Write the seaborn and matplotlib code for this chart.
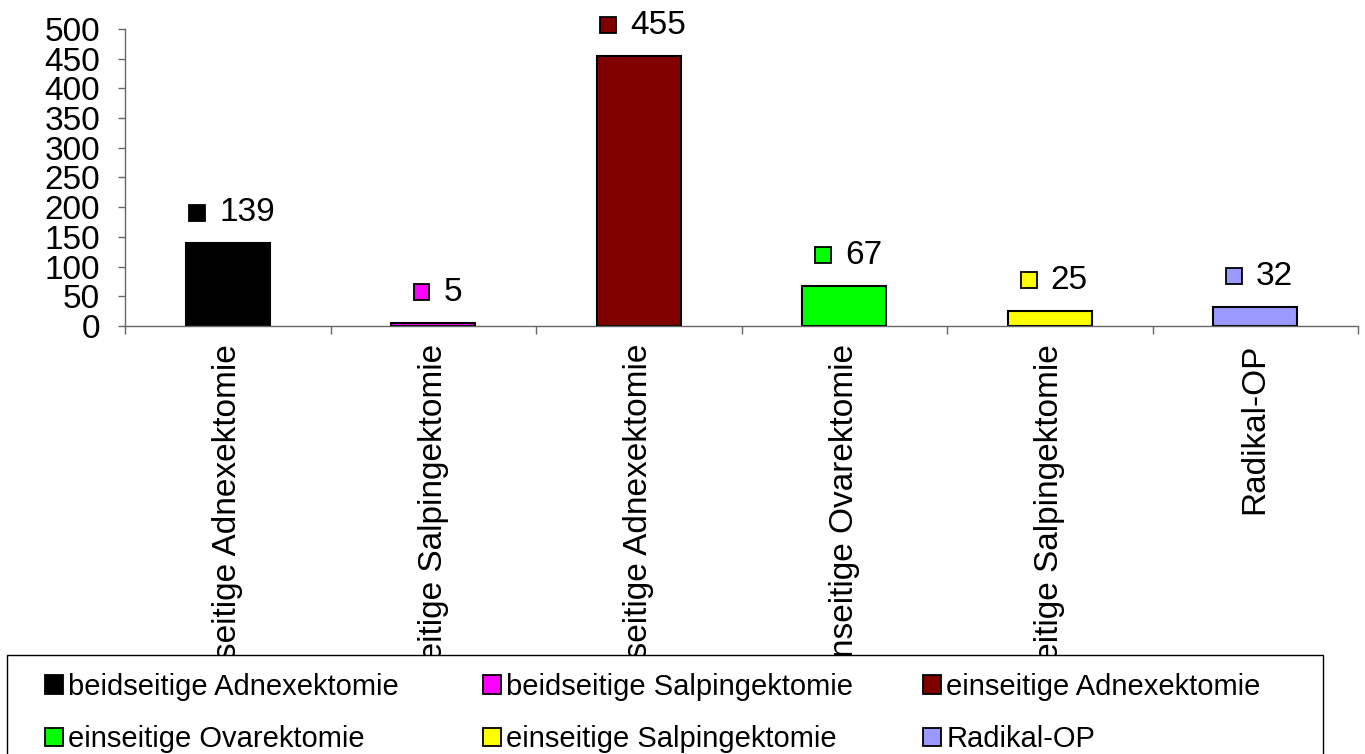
import matplotlib
matplotlib.use("Agg")
import matplotlib.pyplot as plt
import seaborn as sns
import pandas as pd
from matplotlib.patches import Patch, Rectangle
from matplotlib.offsetbox import AnnotationBbox, HPacker, TextArea, DrawingArea

categories = [
    "beidseitige Adnexektomie",
    "beidseitige Salpingektomie",
    "einseitige Adnexektomie",
    "einseitige Ovarektomie",
    "einseitige Salpingektomie",
    "Radikal-OP",
]
counts = [139, 5, 455, 67, 25, 32]
colors = ["#000000", "#FF00FF", "#800000", "#00FF00", "#FFFF00", "#9999FF"]
y_ticks = list(range(0, 501, 50))

sns.set_style("white")
plt.rcParams["font.family"] = ["Liberation Sans", "DejaVu Sans"]
plt.rcParams["text.color"] = "black"
plt.rcParams["xtick.color"] = "black"
plt.rcParams["ytick.color"] = "black"

df = pd.DataFrame({"Eingriff": categories, "Anzahl": counts})
palette = dict(zip(categories, colors))

W, H = 1365, 754
fig = plt.figure(figsize=(W / 100, H / 100), dpi=100)
ax = fig.add_axes([125 / W, 1 - 326 / H, 1233 / W, 297 / H])

sns.barplot(data=df, x="Eingriff", y="Anzahl", hue="Eingriff", palette=palette,
            order=categories, hue_order=categories, width=0.41,
            edgecolor="black", linewidth=1.5, saturation=1, legend=False, ax=ax)

axis_col = "#666666"
ax.set_xlim(-0.5, len(categories) - 0.5)
ax.set_ylim(0, 500)
ax.set_yticks(y_ticks)
ax.tick_params(axis="y", labelsize=24, length=5, width=1, color=axis_col,
               labelcolor="black", pad=13, left=True)
# boundary ticks (major) and category labels (minor)
ax.set_xticks([i - 0.5 for i in range(len(categories) + 1)])
ax.set_xticklabels([])
ax.set_xticks(range(len(categories)), minor=True)
ax.set_xticklabels(categories, minor=True, rotation=90, va="top", ha="center", fontsize=24)
ax.tick_params(axis="x", which="major", length=6, width=1, color=axis_col, bottom=True)
ax.tick_params(axis="x", which="minor", length=0, pad=13, labelcolor="black")
ax.set_xlabel("")
ax.set_ylabel("")

for s in ["top", "right"]:
    ax.spines[s].set_visible(False)
for s in ["left", "bottom"]:
    ax.spines[s].set_color(axis_col)
    ax.spines[s].set_linewidth(1)

# value labels with small colored key
for i, (v, c) in enumerate(zip(counts, colors)):
    da = DrawingArea(12, 12, 0, 0)
    da.add_artist(Rectangle((0.5, 0.5), 11.5, 11.5, facecolor=c, edgecolor="black", linewidth=1.3))
    ta = TextArea(str(v), textprops=dict(fontsize=24, color="black"))
    box = HPacker(children=[da, ta], align="center", pad=0, sep=10)
    ab = AnnotationBbox(box, (i, v), xybox=(3, 22), boxcoords="offset points",
                        frameon=False, box_alignment=(0.5, 0.5))
    ax.add_artist(ab)

# legend box at the bottom, drawn over the long category labels
frame = Rectangle((7 / W, -0.05), 1316 / W, 1.05 - 655 / H, transform=fig.transFigure,
                  facecolor="white", edgecolor="black", linewidth=1, zorder=5)
fig.add_artist(frame)

col_x = [45, 483, 923]
for j, x in enumerate(col_x):
    idx = [j, j + 3]
    handles = [Patch(facecolor=colors[k], edgecolor="black", linewidth=1.3) for k in idx]
    leg = fig.legend(handles, [categories[k] for k in idx], loc="center left",
                     bbox_to_anchor=(x / W, 1 - 713 / H), borderaxespad=0, borderpad=0,
                     fontsize=21, frameon=False, handlelength=0.6, handleheight=0.6,
                     handletextpad=0.2, labelspacing=0.85)
    leg.set_zorder(6)

fig.savefig("out.png", dpi=100)
